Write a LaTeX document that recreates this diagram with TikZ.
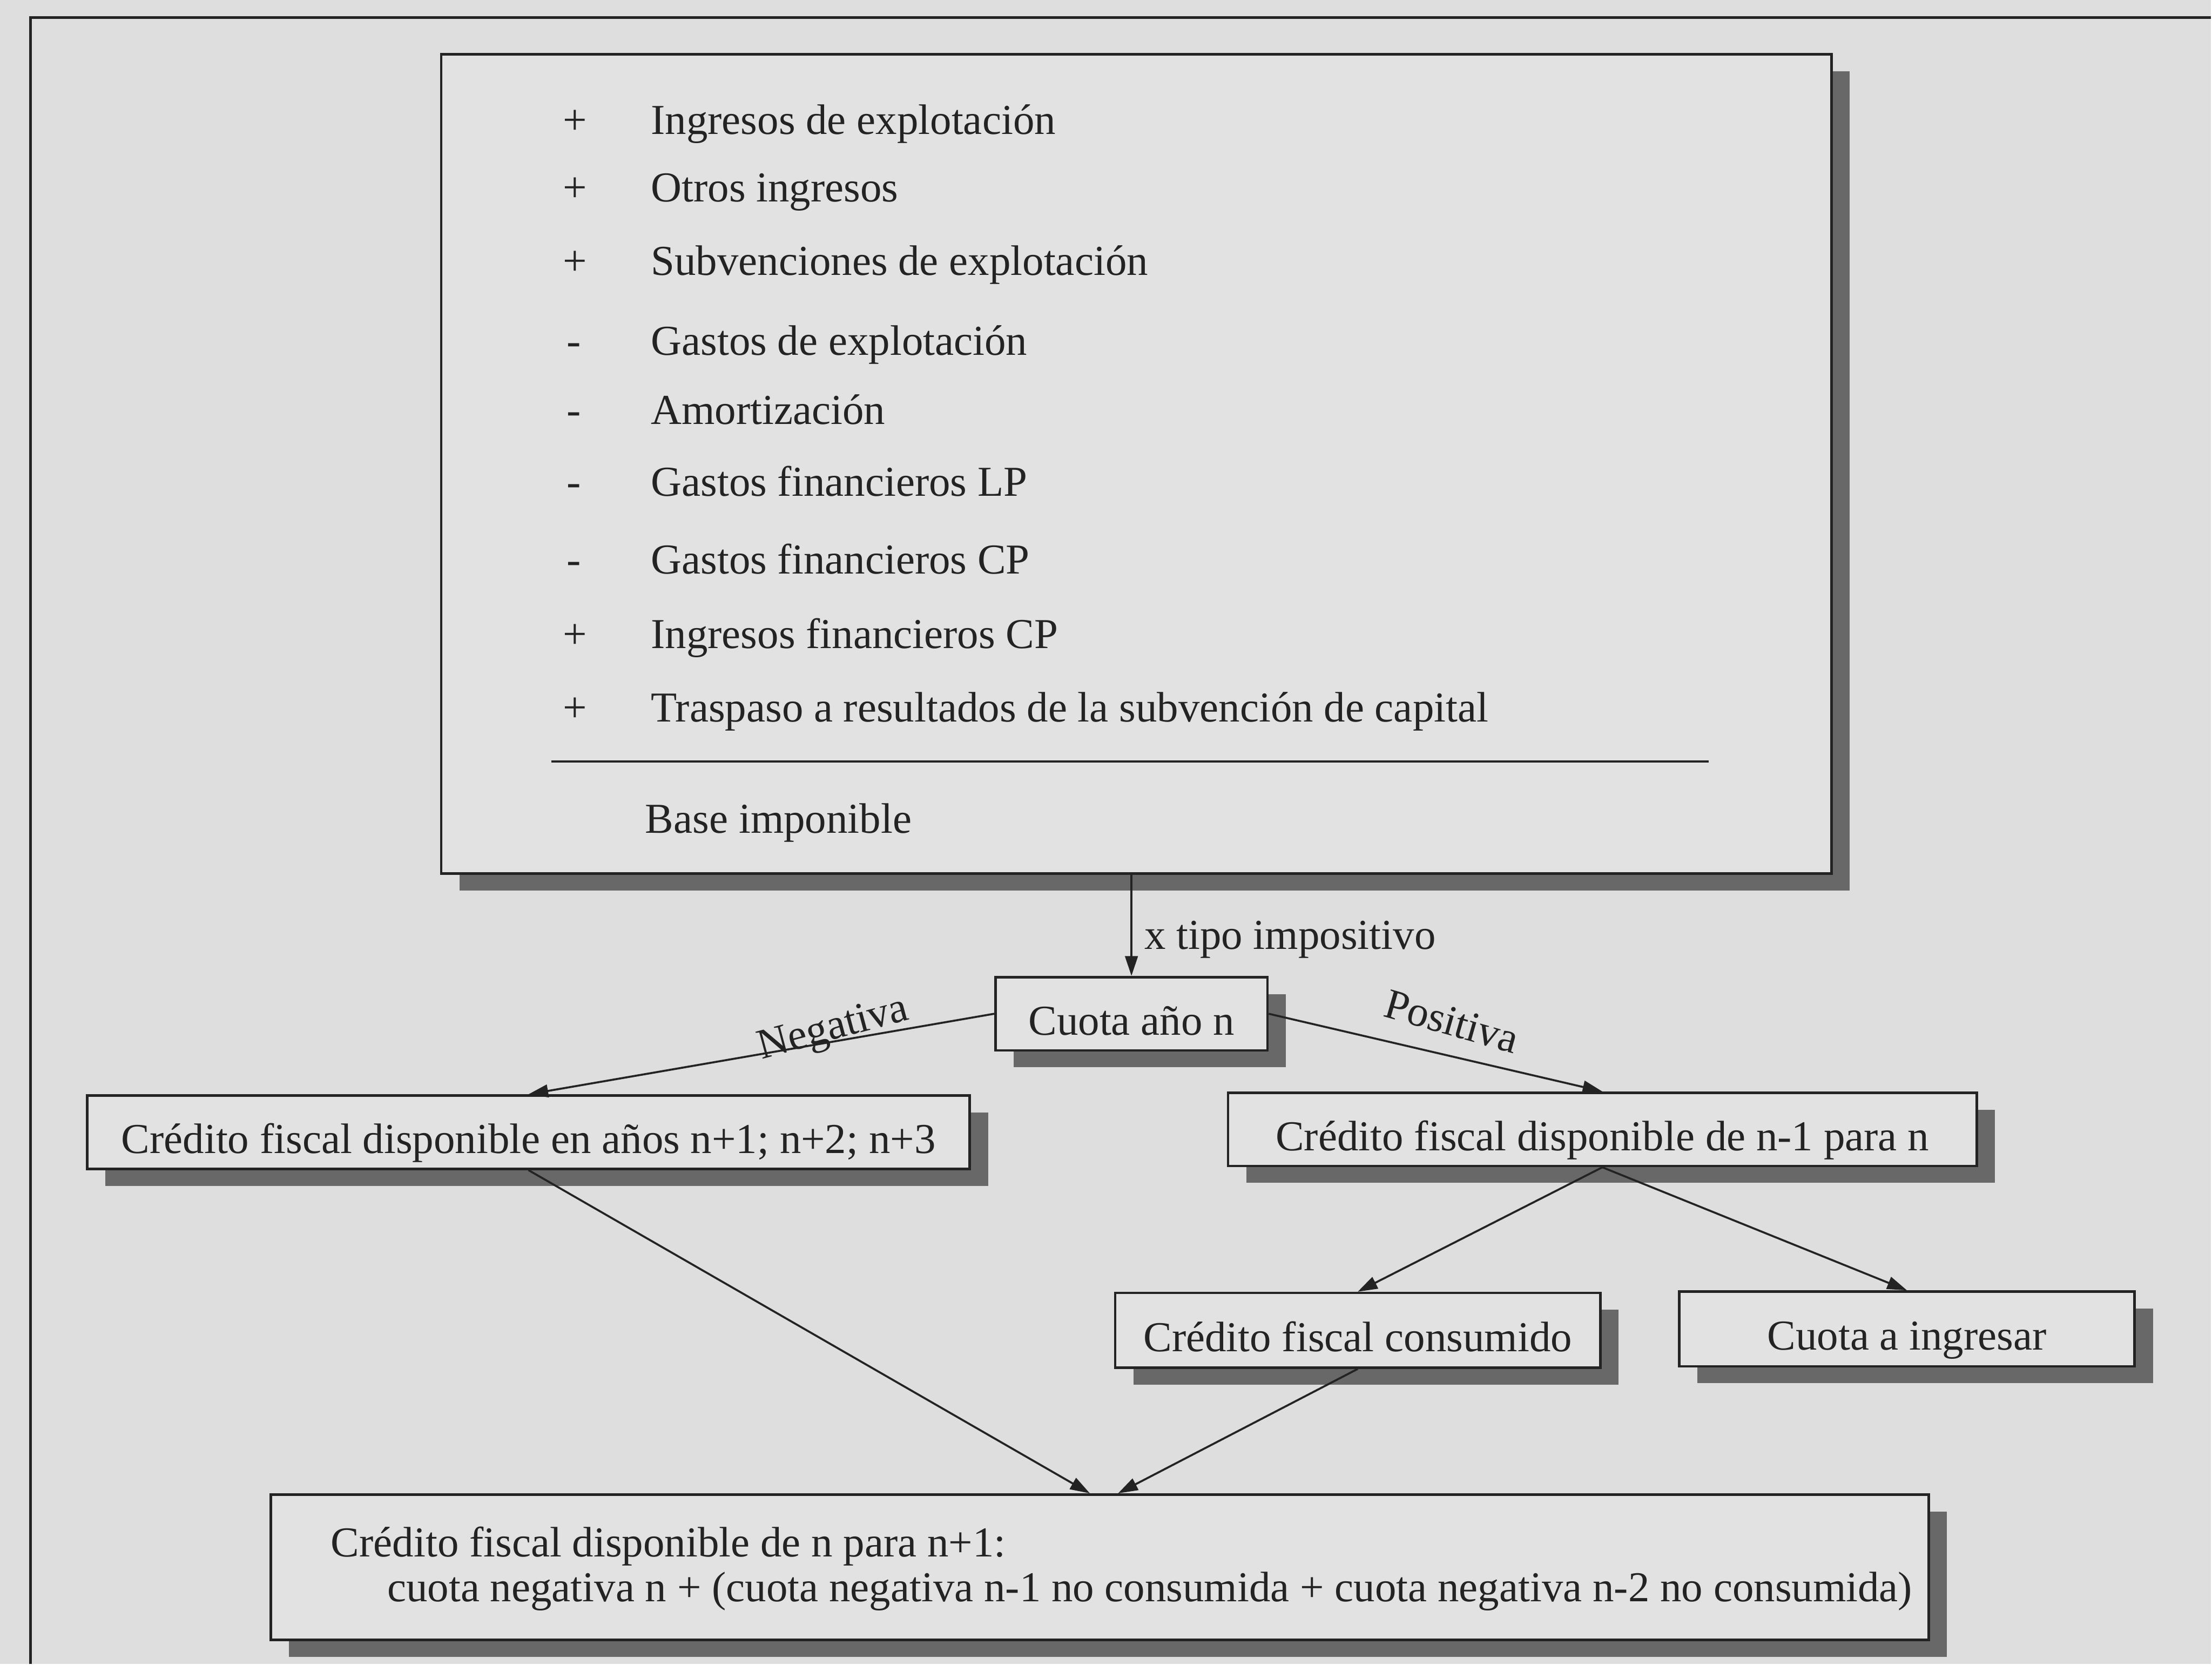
\documentclass[tikz,border=0pt]{standalone}
\usepackage{fontspec}
\setmainfont{Liberation Serif}
\usepackage{xcolor}
\usepackage{tikz}
\usetikzlibrary{positioning, arrows.meta, shadows, calc}

\definecolor{paper}{RGB}{222,222,222}
\definecolor{boxfill}{RGB}{226,226,226}
\definecolor{shade}{RGB}{104,104,104}
\definecolor{ink}{RGB}{35,35,35}

\tikzset{
  box/.style={draw=ink, line width=0.5pt, fill=boxfill, inner sep=0pt, text=ink,
    text height=3mm, text depth=0pt,
    drop shadow={shadow xshift=1.3mm, shadow yshift=-1.2mm, fill=shade, opacity=1}},
  conn/.style={draw=ink, line width=0.4pt, -{Triangle[length=1.4mm, width=0.9mm]}},
  lbl/.style={text=ink, inner sep=0pt},
}

\begin{document}
\begin{tikzpicture}[x=0.1mm, y=-0.1mm, font=\fontsize{8.6}{10}\selectfont]
        \fill[paper] (0,0) rectangle (1568,1180);
        \draw[ink, line width=0.5pt] (1568,12.4) -- (21.7,12.4) -- (21.7,1180);

        % base imponible
        \node[box, minimum width=98.6mm, minimum height=58.1mm] (calc) at (806,329) {};
        \node[lbl, anchor=base] (s1) at (408,95) {+};
        \node[lbl, anchor=base west] (r1) at (461,95) {Ingresos de explotación};
        \node[lbl, anchor=base] (s2) at (408,143) {+};
        \node[lbl, anchor=base west] (r2) at (461,143) {Otros ingresos};
        \node[lbl, anchor=base] (s3) at (408,195) {+};
        \node[lbl, anchor=base west] (r3) at (461,195) {Subvenciones de explotación};
        \node[lbl, anchor=base] (s4) at (407,252) {-};
        \node[lbl, anchor=base west] (r4) at (461,252) {Gastos de explotación};
        \node[lbl, anchor=base] (s5) at (407,301) {-};
        \node[lbl, anchor=base west] (r5) at (461,301) {Amortización};
        \node[lbl, anchor=base] (s6) at (407,352) {-};
        \node[lbl, anchor=base west] (r6) at (461,352) {Gastos financieros LP};
        \node[lbl, anchor=base] (s7) at (407,407) {-};
        \node[lbl, anchor=base west] (r7) at (461,407) {Gastos financieros CP};
        \node[lbl, anchor=base] (s8) at (408,460) {+};
        \node[lbl, anchor=base west] (r8) at (461,460) {Ingresos financieros CP};
        \node[lbl, anchor=base] (s9) at (408,512) {+};
        \node[lbl, anchor=base west] (r9) at (461,512) {Traspaso a resultados de la subvención de capital};
        \draw[ink, line width=0.5pt] (391,540) -- (1212,540);
        \node[lbl, anchor=base west] (base) at (457,591) {Base imponible};

        % cuota
        \node[box, minimum width=19.3mm, minimum height=5.2mm] (cuota) at (802.5,719) {Cuota año n};
        \draw[conn] (calc.south -| cuota.north) -- (cuota.north);
        \node[lbl, anchor=base west] (tipo) at (811,673) {x tipo impositivo};

        \node[box, minimum width=62.6mm, minimum height=5.2mm] (cf1) at (374.8,803) {Crédito fiscal disponible en años n+1; n+2; n+3};
        \node[box, minimum width=53.1mm, minimum height=5.2mm] (cf2) at (1136.5,801) {Crédito fiscal disponible de n-1 para n};
        \draw[conn] (cuota.west) -- (cf1.north);
        \draw[conn] (cuota.east) -- (cf2.north);
        \node[lbl, anchor=base, rotate=15] (neg) at (593,737) {Negativa};
        \node[lbl, anchor=base, rotate=-16] (pos) at (1027,734) {Positiva};

        \node[box, minimum width=34.4mm, minimum height=5.3mm] (cfc) at (963,943.5) {Crédito fiscal consumido};
        \node[box, minimum width=32.3mm, minimum height=5.3mm] (ci) at (1352.5,942.5) {Cuota a ingresar};
        \draw[conn] (cf2.south) -- (cfc.north);
        \draw[conn] (cf2.south) -- (ci.north);

        % credito siguiente
        \node[box, minimum width=117.6mm, minimum height=10.3mm] (bot) at (780,1111.5) {};
        \node[lbl, anchor=base west] (bt1) at (234,1104) {Crédito fiscal disponible de n para n+1:};
        \node[lbl, anchor=base west] (bt2) at (274,1136) {cuota negativa n + (cuota negativa n-1 no consumida + cuota negativa n-2 no consumida)};
        \draw[conn] (cf1.south) -- ($(bot.north)+(-7,0)$);
        \draw[conn] (cfc.south) -- ($(bot.north)+(13,0)$);
      \end{tikzpicture}
\end{document}
